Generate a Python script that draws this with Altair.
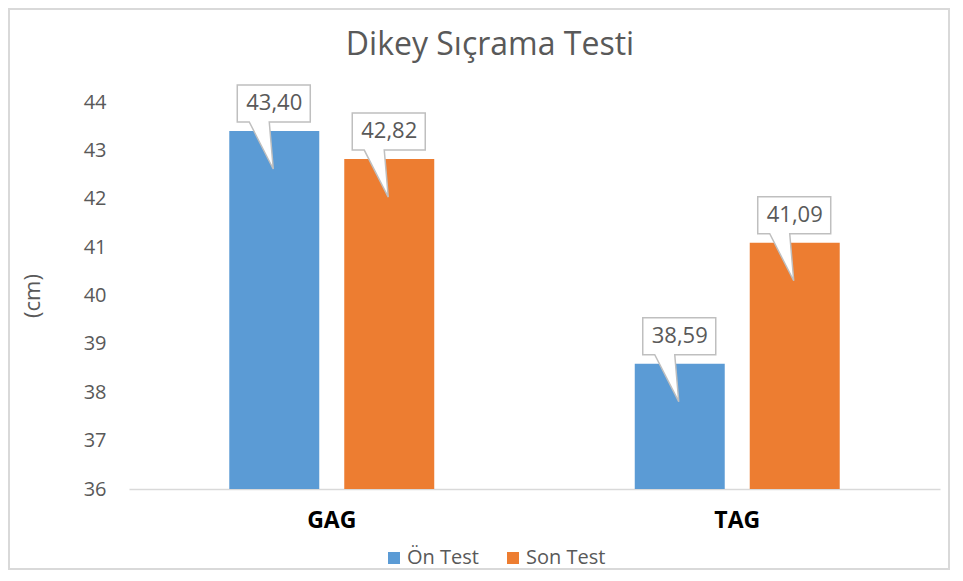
import altair as alt
import pandas as pd

categories = ["GAG", "TAG"]
series_names = ["Ön Test", "Son Test"]
on_test = [43.40, 38.59]
son_test = [42.82, 41.09]
colors = ["#5B9BD5", "#ED7D31"]
y_ticks = [36, 37, 38, 39, 40, 41, 42, 43, 44]
y_min, y_max = 36, 44
chart_title = "Dikey Sıçrama Testi"

rows = []
for i, c in enumerate(categories):
    for s, vals in zip(series_names, [on_test, son_test]):
        rows.append({
            "Grup": c,
            "Test": s,
            "Deger": vals[i],
            "Etiket": f"{vals[i]:.2f}".replace(".", ","),
        })
df = pd.DataFrame(rows)

FONT = "Open Sans"
callout_shape = "M -37 -46 L 36 -46 L 36 -9 L -5 -9 L -1 38 L -25 -9 L -37 -9 Z"

x_enc = alt.X(
    "Grup:N",
    sort=categories,
    scale=alt.Scale(paddingInner=0.4945, paddingOuter=0.2473),
    axis=alt.Axis(
        title=None, labelAngle=0, labelFont=FONT, labelFontSize=23,
        labelFontWeight="bold", labelColor="#000000", labelPadding=20,
        ticks=False, domainColor="#D9D9D9", domainWidth=1.5,
    ),
)
xoff = alt.XOffset(
    "Test:N", sort=series_names,
    scale=alt.Scale(paddingInner=0.2174, paddingOuter=0),
)
y_enc = alt.Y(
    "Deger:Q",
    scale=alt.Scale(domain=[y_min, y_max], nice=False, zero=False),
    axis=alt.Axis(
        values=y_ticks, title="(cm)", grid=False, domain=False, ticks=False,
        labelFont=FONT, labelFontSize=20, labelColor="#595959", labelPadding=23,
        titleFont=FONT, titleFontSize=22, titleFontWeight="normal",
        titleColor="#595959", titleX=-97, titleY=193.5, titleAngle=270,
        titleAlign="center", titleBaseline="middle",
    ),
)

base = alt.Chart(df)

border = alt.Chart(pd.DataFrame({"k": [0]})).mark_rect(
    fillOpacity=0, stroke="#D9D9D9", strokeWidth=2
).encode(
    x=alt.value(-120), x2=alt.value(820), y=alt.value(-93), y2=alt.value(467)
)

title_text = alt.Chart(pd.DataFrame({"t": [chart_title]})).mark_text(
    font=FONT, fontSize=32, color="#595959", align="center", baseline="middle"
).encode(x=alt.value(361), y=alt.value(-57), text="t:N")

bars = base.mark_bar().encode(
    x=x_enc,
    xOffset=xoff,
    y=y_enc,
    y2=alt.datum(y_min),
    color=alt.Color(
        "Test:N",
        scale=alt.Scale(domain=series_names, range=colors),
        legend=alt.Legend(
            title=None, orient="none", legendX=255, legendY=446,
            direction="horizontal", symbolType="square", symbolSize=144,
            symbolStrokeWidth=0, labelFont=FONT, labelFontSize=20,
            labelColor="#595959", labelOffset=3, columnPadding=24,
        ),
    ),
)

callouts = base.mark_point(
    shape=callout_shape, size=4, filled=True, fill="white",
    stroke="#BFBFBF", strokeWidth=1.5, opacity=1,
).encode(x=x_enc, xOffset=xoff, y=y_enc)

texts = base.mark_text(
    dy=-28, fontSize=22, font=FONT, color="#595959",
    baseline="middle", align="center",
).encode(x=x_enc, xOffset=xoff, y=y_enc, text="Etiket:N")

chart = alt.layer(border, title_text, bars, callouts, texts).properties(
    width=811,
    height=387,
    autosize=alt.AutoSizeParams(type="none"),
    padding={"left": 121, "top": 94, "right": 10, "bottom": 82},
).configure_view(stroke=None)

chart.save("out.html", embed_options={"renderer": "svg", "actions": False})
